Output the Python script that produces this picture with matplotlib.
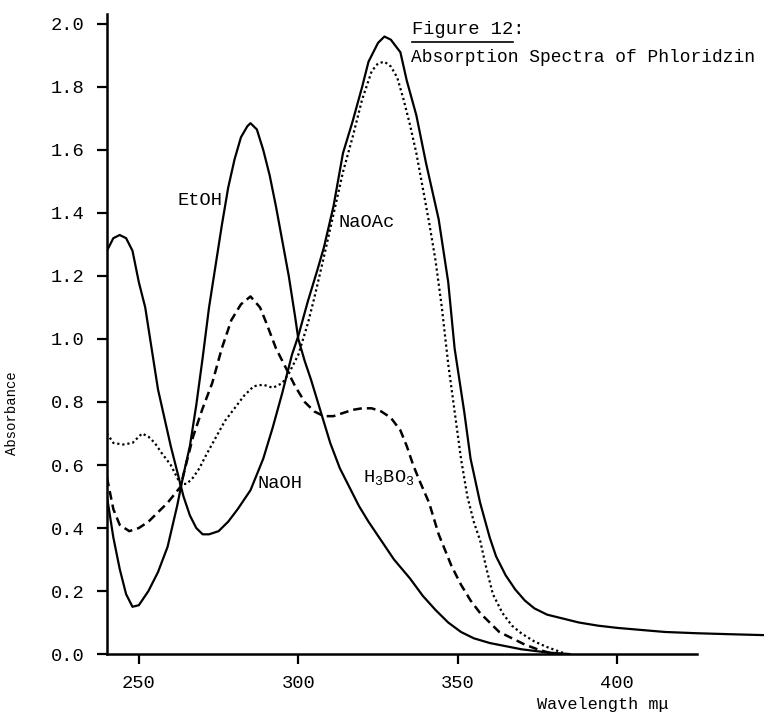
# Absorption spectra of phloridzin (Figure 12) - typewriter style reproduction

import matplotlib
matplotlib.use("Agg")
import matplotlib.pyplot as plt
from matplotlib.lines import Line2D

plt.rcParams["font.family"] = ["Liberation Mono", "DejaVu Sans Mono"]
plt.rcParams["mathtext.fontset"] = "custom"
plt.rcParams["mathtext.rm"] = "Liberation Mono"
plt.rcParams["mathtext.default"] = "regular"

# EtOH (solid, peak ~285)
etoh_wl = [240, 242, 244, 246, 248, 250, 253, 256, 259, 262, 264, 266, 268, 270,
           272, 274, 276, 278, 280, 282, 284, 285, 287, 289, 291, 293, 295, 297,
           299, 300, 302, 304, 307, 310, 313, 316, 319, 322, 326, 330, 335, 339,
           343, 347, 351, 355, 360, 365, 370, 378, 385]
etoh_abs = [0.50, 0.37, 0.27, 0.19, 0.15, 0.155, 0.20, 0.26, 0.34, 0.47, 0.57, 0.66,
            0.79, 0.94, 1.10, 1.23, 1.36, 1.48, 1.57, 1.64, 1.675, 1.685, 1.665,
            1.60, 1.52, 1.42, 1.31, 1.20, 1.07, 1.00, 0.93, 0.87, 0.77, 0.67, 0.59,
            0.53, 0.47, 0.42, 0.36, 0.30, 0.24, 0.185, 0.14, 0.10, 0.07, 0.05,
            0.035, 0.025, 0.015, 0.005, 0.0]

# NaOH (solid, peaks ~244 and ~327)
naoh_wl = [240, 242, 244, 246, 248, 250, 252, 254, 256, 258, 260, 262, 264, 266,
           268, 270, 272, 275, 278, 281, 285, 289, 292, 295, 298, 300, 303, 306,
           308, 311, 314, 317, 320, 322, 325, 327, 329, 332, 334, 337, 340, 342,
           344, 347, 349, 352, 354, 357, 360, 362, 365, 368, 371, 374, 378, 382,
           388, 394, 400, 408, 415, 425, 435, 446]
naoh_abs = [1.28, 1.32, 1.33, 1.32, 1.28, 1.18, 1.10, 0.97, 0.84, 0.75, 0.66, 0.58,
            0.50, 0.44, 0.40, 0.38, 0.38, 0.39, 0.42, 0.46, 0.52, 0.62, 0.72, 0.83,
            0.95, 1.01, 1.12, 1.22, 1.29, 1.42, 1.59, 1.69, 1.80, 1.88, 1.94, 1.96,
            1.95, 1.91, 1.82, 1.71, 1.56, 1.47, 1.38, 1.18, 0.97, 0.77, 0.62, 0.48,
            0.37, 0.31, 0.25, 0.205, 0.17, 0.145, 0.125, 0.115, 0.10, 0.09, 0.083,
            0.076, 0.07, 0.066, 0.063, 0.06]

# H3BO3 (dashed)
boric_wl = [240, 242, 244, 247, 250, 253, 256, 259, 263, 265, 267, 270, 273, 276,
            279, 282, 285, 288, 290, 293, 296, 299, 302, 305, 308, 311, 314, 317,
            320, 323, 326, 329, 332, 334, 336, 338, 341, 344, 348, 351, 354, 357,
            360, 363, 367, 371, 375, 380]
boric_abs = [0.56, 0.46, 0.41, 0.39, 0.40, 0.42, 0.45, 0.48, 0.53, 0.61, 0.69, 0.78,
             0.86, 0.97, 1.06, 1.11, 1.135, 1.10, 1.05, 0.97, 0.91, 0.85, 0.80,
             0.77, 0.755, 0.755, 0.765, 0.775, 0.78, 0.78, 0.77, 0.75, 0.71, 0.66,
             0.60, 0.55, 0.48, 0.38, 0.28, 0.22, 0.17, 0.13, 0.10, 0.07, 0.05,
             0.03, 0.015, 0.0]

# NaOAc (dotted)
naoac_wl = [240, 242, 245, 248, 251, 253, 255, 257, 260, 263, 265, 267, 269, 271,
            274, 277, 280, 283, 286, 289, 292, 295, 297, 300, 303, 305, 308, 310,
            312, 314, 317, 320, 323, 325, 327, 329, 331, 333, 335, 337, 339, 341,
            343, 345, 347, 349, 351, 353, 355, 357, 359, 361, 364, 367, 370, 374,
            378, 384]
naoac_abs = [0.70, 0.67, 0.665, 0.67, 0.70, 0.69, 0.67, 0.64, 0.60, 0.54, 0.54,
             0.56, 0.59, 0.63, 0.685, 0.74, 0.78, 0.82, 0.85, 0.855, 0.845, 0.86,
             0.89, 0.95, 1.05, 1.13, 1.26, 1.35, 1.44, 1.53, 1.64, 1.76, 1.85,
             1.875, 1.88, 1.865, 1.83, 1.76, 1.68, 1.59, 1.48, 1.37, 1.25, 1.10,
             0.92, 0.77, 0.62, 0.50, 0.42, 0.36, 0.27, 0.19, 0.13, 0.09, 0.065,
             0.04, 0.022, 0.0]

y_ticks = [0.0, 0.2, 0.4, 0.6, 0.8, 1.0, 1.2, 1.4, 1.6, 1.8, 2.0]
x_ticks = [250, 300, 350, 400]

FS = 13.5

fig = plt.figure(figsize=(7.64, 7.13), dpi=100)
ax = fig.add_axes([0.140, 0.0827, 0.86, 0.897])

ax.plot(etoh_wl, etoh_abs, color="black", lw=1.6, solid_joinstyle="round")
ax.plot(naoh_wl, naoh_abs, color="black", lw=1.6, solid_joinstyle="round")
ax.plot(boric_wl, boric_abs, color="black", lw=1.8, linestyle=(0, (3.5, 2)))
ax.plot(naoac_wl, naoac_abs, color="black", lw=1.6, linestyle=(0, (1, 1.3)))

ax.set_xlim(240, 446)
ax.set_ylim(0, 2.03)

for side in ["top", "right"]:
    ax.spines[side].set_visible(False)
for side in ["left", "bottom"]:
    ax.spines[side].set_linewidth(1.8)
ax.spines["bottom"].set_bounds(240, 425)

ax.set_yticks(y_ticks)
ax.set_yticklabels([f"{v:.1f}" for v in y_ticks], fontsize=FS)
ax.set_xticks(x_ticks)
ax.set_xticklabels([str(v) for v in x_ticks], fontsize=FS)
ax.tick_params(axis="both", direction="out", length=7, width=1.6)
ax.tick_params(axis="y", pad=9)
ax.tick_params(axis="x", pad=8)

# curve labels
ax.text(276.3, 1.44, "EtOH", fontsize=FS, ha="right", va="center")
ax.text(312.7, 1.37, "NaOAc", fontsize=FS, ha="left", va="center")
ax.text(287.3, 0.54, "NaOH", fontsize=FS, ha="left", va="center")
ax.text(320.2, 0.56, r"H$_3$BO$_3$", fontsize=FS, ha="left", va="center")

# figure caption, underlined heading
fig.text(412 / 764, 1 - 30 / 713, "Figure 12:", fontsize=FS, ha="left", va="center")
fig.add_artist(Line2D([412 / 764, 513 / 764], [1 - 42 / 713, 1 - 42 / 713],
                      color="black", lw=1.2))
fig.text(411 / 764, 1 - 58 / 713, "Absorption Spectra of Phloridzin",
         fontsize=12.9, ha="left", va="center")

fig.text(12 / 764, 1 - 413 / 713, "Absorbance", fontsize=10, rotation=90,
         ha="center", va="center")
fig.text(537 / 764, 1 - 705 / 713, "Wavelength m\u03bc", fontsize=FS * 0.9,
         ha="left", va="center")

fig.savefig("out.png", dpi=100)
